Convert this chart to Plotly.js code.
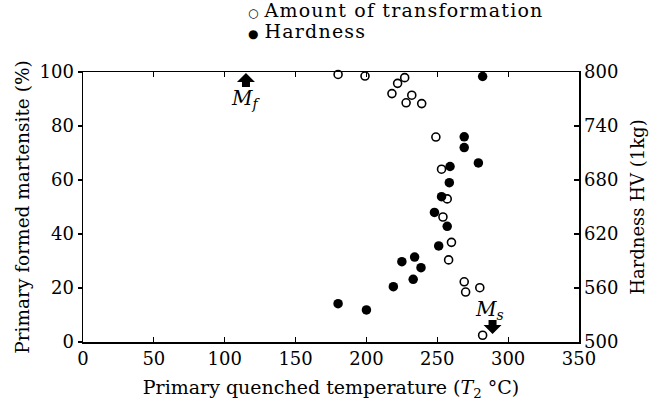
<!DOCTYPE html>
<html>
<head>
<meta charset="utf-8">
<script src="https://cdn.plot.ly/plotly-3.0.1.min.js"></script>
<style>
  html, body { margin: 0; padding: 0; background: #fff; }
  #chart { width: 659px; height: 401px; }
</style>
</head>
<body>
<div id="chart"></div>
<script>
// Amount of transformation (%) against primary quenched temperature T2 (°C)
const transformTemp = [180, 199, 227, 222, 218, 232, 228, 239, 249, 253, 257, 254, 260, 258, 269, 270, 280, 282];
const transformPct  = [99.1, 98.5, 97.9, 95.8, 92.0, 91.4, 88.6, 88.3, 75.9, 64.0, 53.0, 46.3, 36.9, 30.4, 22.3, 18.5, 20.1, 2.5];

// Hardness HV (1kg) against primary quenched temperature T2 (°C)
const hardnessTemp = [282, 269, 269, 279, 259, 258.5, 253, 248, 257, 180, 200, 219, 225, 234, 238.5, 233, 251];
const hardnessHV   = [795, 728, 716, 699, 695, 677, 661.5, 644, 628.5, 542.6, 535.6, 561.5, 589.3, 594.4, 582.6, 569.6, 606.7];

// Martensite finish / start temperatures
const mfTemp = 115;
const msTemp = 288;

const xTicks  = [0, 50, 100, 150, 200, 250, 300, 350];
const yTicks  = [0, 20, 40, 60, 80, 100];
const y2Ticks = [500, 560, 620, 680, 740, 800];

const serif = "'DejaVu Serif', 'Liberation Serif', serif";

const traces = [
  {
    x: transformTemp, y: transformPct, type: "scatter", mode: "markers",
    name: "Amount of transformation",
    marker: { symbol: "circle-open", size: 8, color: "#000", line: { width: 1.6, color: "#000" } },
    showlegend: false, cliponaxis: false
  },
  {
    x: hardnessTemp, y: hardnessHV, type: "scatter", mode: "markers",
    name: "Hardness", yaxis: "y2",
    marker: { symbol: "circle", size: 9.5, color: "#000" },
    showlegend: false, cliponaxis: false
  }
];

// key entries: small symbol followed by the series name
function keyText(symbol, label) {
  return '<span style="font-size:12px">' + symbol + '</span> ' +
         '<span style="letter-spacing:1.2px">' + label + '</span>';
}

// block arrow drawn in pixel units around an anchor point; dir = 1 points up, -1 points down
function blockArrow(xVal, yVal, dir) {
  const p = (dx, dy) => dx + "," + (dir * dy);
  return {
    type: "path", xref: "x", yref: "y",
    xsizemode: "pixel", ysizemode: "pixel", xanchor: xVal, yanchor: yVal,
    path: "M" + p(0, 0) + " L" + p(9, -9) + " L" + p(4, -9) + " L" + p(4, -14) +
          " L" + p(-4, -14) + " L" + p(-4, -9) + " L" + p(-9, -9) + " Z",
    fillcolor: "#000", line: { width: 0 }
  };
}

const layout = {
  width: 659, height: 401,
  margin: { l: 83, r: 80, t: 72, b: 59 },
  paper_bgcolor: "#fff", plot_bgcolor: "#fff",
  font: { family: serif, size: 18, color: "#000" },
  showlegend: false,
  xaxis: {
    range: [0, 350], tickvals: xTicks, ticktext: xTicks.map(String),
    showgrid: false, zeroline: false,
    showline: true, linecolor: "#000", linewidth: 1.5, mirror: "ticks",
    ticks: "inside", ticklen: 5, tickwidth: 1.2, tickcolor: "#000",
    tickfont: { family: serif, size: 18 },
    title: { text: "Primary quenched temperature (<i>T</i><sub>2</sub> °C)", font: { family: serif, size: 19 }, standoff: 15 }
  },
  yaxis: {
    range: [0, 100], tickvals: yTicks, ticktext: yTicks.map(String),
    showgrid: false, zeroline: false,
    showline: true, linecolor: "#000", linewidth: 1.5,
    ticks: "outside", ticklen: 4, tickwidth: 1.2, tickcolor: "#000",
    tickfont: { family: serif, size: 18 },
    title: { text: "Primary formed martensite (%)", font: { family: serif, size: 18.5 }, standoff: 5 }
  },
  yaxis2: {
    range: [500, 800], tickvals: y2Ticks, ticktext: y2Ticks.map(String),
    overlaying: "y", side: "right",
    showgrid: false, zeroline: false,
    showline: true, linecolor: "#000", linewidth: 1.5,
    ticks: "inside", ticklen: 5, tickwidth: 1.2, tickcolor: "#000",
    tickfont: { family: serif, size: 18 },
    title: { text: "Hardness HV (1kg)", font: { family: serif, size: 18 }, standoff: 14 }
  },
  shapes: [
    blockArrow(mfTemp, 99.6, 1),
    blockArrow(msTemp + 1, 3.0, -1)
  ],
  annotations: [
    {
      xref: "paper", yref: "paper", x: 0.331, y: 1.2296, xanchor: "left", yanchor: "middle",
      showarrow: false, borderpad: 0, text: keyText("○", "Amount of transformation"),
      font: { family: serif, size: 19 }
    },
    {
      xref: "paper", yref: "paper", x: 0.331, y: 1.1537, xanchor: "left", yanchor: "middle",
      showarrow: false, borderpad: 0, text: keyText("●", "Hardness"),
      font: { family: serif, size: 19 }
    },
    // Mf label below its arrow
    {
      x: mfTemp, y: 99.6, xref: "x", yref: "y", yshift: -26,
      text: "<i>M</i><sub><i>f</i></sub>", font: { family: serif, size: 20 }, showarrow: false
    },
    // Ms label above its arrow
    {
      x: msTemp, y: 3.0, xref: "x", yref: "y", xshift: -2, yshift: 24,
      text: "<i>M</i><sub><i>s</i></sub>", font: { family: serif, size: 20 }, showarrow: false
    }
  ]
};

Plotly.newPlot("chart", traces, layout, { displayModeBar: false, staticPlot: true });
</script>
</body>
</html>
